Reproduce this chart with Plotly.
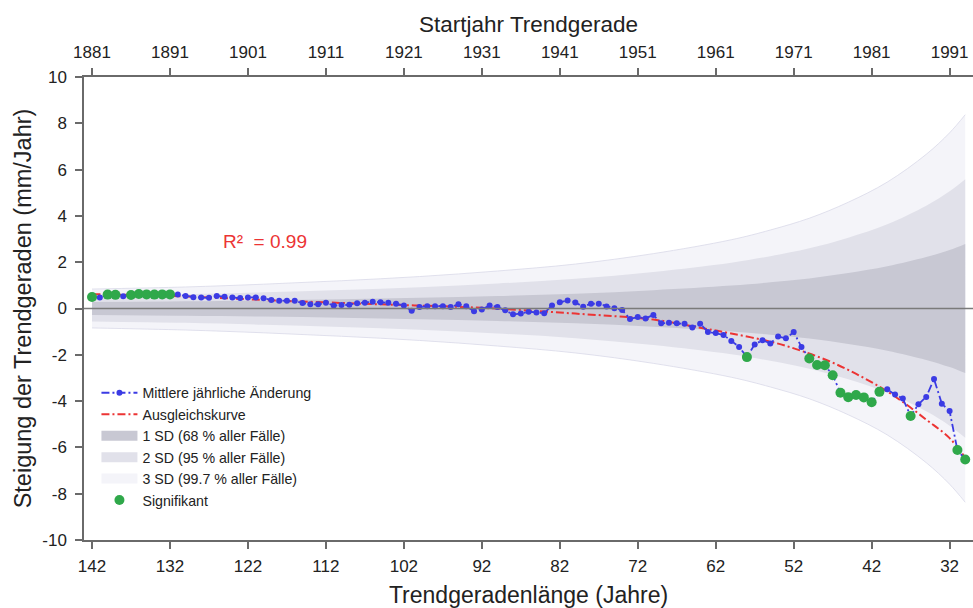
import plotly.graph_objects as go

# ---------------- data ----------------
lengths = list(range(142, 29, -1))  # Trendgeradenlänge (Jahre), 142 ... 30

slope_vals = [
    0.50, 0.47, 0.60, 0.59, 0.53, 0.58, 0.63, 0.61, 0.60, 0.61,   # 142-133
    0.61, 0.60, 0.54, 0.49, 0.47, 0.46, 0.54, 0.51, 0.47, 0.45,   # 132-123
    0.48, 0.48, 0.44, 0.37, 0.34, 0.33, 0.33, 0.24, 0.18, 0.18,   # 122-113
    0.25, 0.13, 0.15, 0.16, 0.23, 0.25, 0.29, 0.27, 0.25, 0.21,   # 112-103
    0.13, -0.10, 0.06, 0.10, 0.10, 0.10, 0.06, 0.18, 0.10, -0.12, # 102-93
    -0.04, 0.13, 0.07, -0.08, -0.25, -0.22, -0.14, -0.17, -0.20, 0.13,  # 92-83
    0.27, 0.35, 0.26, 0.08, 0.21, 0.20, 0.09, 0.01, -0.06, -0.45,  # 82-73
    -0.37, -0.43, -0.28, -0.64, -0.62, -0.64, -0.66, -0.82, -0.66, -1.01,  # 72-63
    -1.06, -1.14, -1.40, -1.66, -2.10, -1.55, -1.37, -1.51, -1.21, -1.29,  # 62-53
    -1.02, -1.66, -2.16, -2.44, -2.45, -2.88, -3.64, -3.83, -3.74, -3.84,  # 52-43
    -4.05, -3.60, -3.49, -3.72, -3.89, -4.64, -4.14, -3.82, -3.05, -4.11,  # 42-33
    -4.43, -6.11, -6.52,                                                   # 32-30
]

sig_lengths = [142, 140, 139, 137, 136, 135, 134, 133, 132,
               58, 50, 49, 48, 47, 46, 45, 44, 43, 42, 41, 37, 31, 30]

fit_lengths = [142, 130, 118, 105, 92, 80, 70, 64, 60, 55, 51, 47, 43, 39, 35, 32, 30]
fit_vals = [0.62, 0.52, 0.34, 0.18, 0.03, -0.22, -0.48, -0.83, -1.08, -1.43,
            -1.83, -2.34, -3.00, -3.80, -4.80, -5.60, -6.45]

band_lengths = [142, 130, 120, 110, 100, 90, 80, 70, 60, 55, 50, 45, 40, 35, 32, 30]
band_sd = [0.28, 0.31, 0.35, 0.40, 0.46, 0.54, 0.64, 0.79, 0.99, 1.13,
           1.30, 1.53, 1.82, 2.22, 2.53, 2.79]

bottom_tick_vals = [142, 132, 122, 112, 102, 92, 82, 72, 62, 52, 42, 32]
bottom_tick_text = ["142", "132", "122", "112", "102", "92", "82", "72", "62", "52", "42", "32"]
top_tick_text = ["1881", "1891", "1901", "1911", "1921", "1931", "1941",
                 "1951", "1961", "1971", "1981", "1991"]
y_tick_vals = [-10, -8, -6, -4, -2, 0, 2, 4, 6, 8, 10]
y_tick_text = ["-10", "-8", "-6", "-4", "-2", "0", "2", "4", "6", "8", "10"]

x_range = [143.03, 29.0]

# ---------------- styles ----------------
FONT = "Liberation Sans, Arial, Helvetica, sans-serif"
AX = "#6a6a6a"
C1 = "#c8c8d3"
C2 = "#e1e1ea"
C3 = "#f4f4f9"
BLUE = "#3b3be4"
RED = "#ec3434"
GREEN = "#2fa84a"

fig = go.Figure()

bands = [(3, C3, "#d9d9e8", 0.8), (2, C2, C2, 0.0), (1, C1, C1, 0.0)]
for k, col, lcol, lw in bands:
    lower = [-k * s for s in band_sd]
    upper = [k * s for s in band_sd]
    fig.add_trace(go.Scatter(x=band_lengths, y=lower, mode="lines",
                             line=dict(color=lcol, width=lw, shape="spline"),
                             showlegend=False, hoverinfo="skip"))
    fig.add_trace(go.Scatter(x=band_lengths, y=upper, mode="lines",
                             line=dict(color=lcol, width=lw, shape="spline"),
                             fill="tonexty", fillcolor=col,
                             showlegend=False, hoverinfo="skip"))

# legend-only swatches for the bands
legend_bands = [("1 SD (68 % aller Fälle)", C1, 3),
                ("2 SD (95 % aller Fälle)", C2, 4),
                ("3 SD (99.7 % aller Fälle)", C3, 5)]
for name, col, rank in legend_bands:
    fig.add_trace(go.Scatter(x=[None], y=[None], mode="lines",
                             line=dict(color=col, width=15),
                             name=name, legendrank=rank, hoverinfo="skip"))

# zero line (drawn above bands), bound to the top axis
fig.add_trace(go.Scatter(x=x_range, y=[0, 0], mode="lines", xaxis="x2",
                         line=dict(color="#7a7a7a", width=1.6),
                         showlegend=False, hoverinfo="skip"))

fig.add_trace(go.Scatter(x=fit_lengths, y=fit_vals, mode="lines",
                         line=dict(color=RED, width=2, dash="8px,3px,2px,3px", shape="spline"),
                         name="Ausgleichskurve", legendrank=2))

fig.add_trace(go.Scatter(x=lengths, y=slope_vals, mode="lines+markers",
                         line=dict(color=BLUE, width=1.8, dash="8px,3px,2px,3px"),
                         marker=dict(color=BLUE, size=6),
                         name="Mittlere jährliche Änderung", legendrank=1))

sig_y = [slope_vals[lengths.index(L)] for L in sig_lengths]
fig.add_trace(go.Scatter(x=sig_lengths, y=sig_y, mode="markers",
                         marker=dict(color=GREEN, size=10),
                         name="Signifikant", legendrank=6))

fig.add_annotation(x=119.8, y=2.9, xref="x", yref="y", text="R²  = 0.99",
                   showarrow=False, font=dict(family=FONT, size=19, color=RED))

axis_common = dict(showline=True, linecolor=AX, linewidth=1.5, ticks="outside",
                   ticklen=7, tickwidth=1.5, tickcolor=AX, showgrid=False,
                   zeroline=False, automargin=False,
                   tickfont=dict(family=FONT, size=17, color="#222"))

fig.update_layout(
    width=973, height=608,
    margin=dict(l=84, r=0, t=77, b=68),
    plot_bgcolor="white", paper_bgcolor="white",
    font=dict(family=FONT, size=16, color="#222"),
    xaxis=dict(range=x_range, tickmode="array", tickvals=bottom_tick_vals,
               ticktext=bottom_tick_text, ticklabelstandoff=3,
               title=dict(text="Trendgeradenlänge (Jahre)", standoff=12,
                          font=dict(family=FONT, size=23, color="#222")),
               **axis_common),
    xaxis2=dict(range=x_range, overlaying="x", side="top", tickmode="array",
                tickvals=bottom_tick_vals, ticktext=top_tick_text,
                ticklabelstandoff=3,
                title=dict(text="Startjahr Trendgerade", standoff=5,
                           font=dict(family=FONT, size=22.5, color="#222")),
                **axis_common),
    yaxis=dict(range=[-10, 10], tickmode="array", tickvals=y_tick_vals,
               ticktext=y_tick_text, ticklabelstandoff=5,
               title=dict(text="Steigung der Trendgeraden (mm/Jahr)", standoff=4,
                          font=dict(family=FONT, size=23.5, color="#222")),
               **axis_common),
    showlegend=True,
    legend=dict(x=0.014, y=0.352, xanchor="left", yanchor="top",
                bgcolor="rgba(0,0,0,0)", itemwidth=36, traceorder="normal",
                font=dict(family=FONT, size=14.2, color="#222")),
)

fig.write_html("out.html",
               config={"displayModeBar": False},
               post_script="document.body.style.margin='0px';document.body.style.overflow='hidden';")
